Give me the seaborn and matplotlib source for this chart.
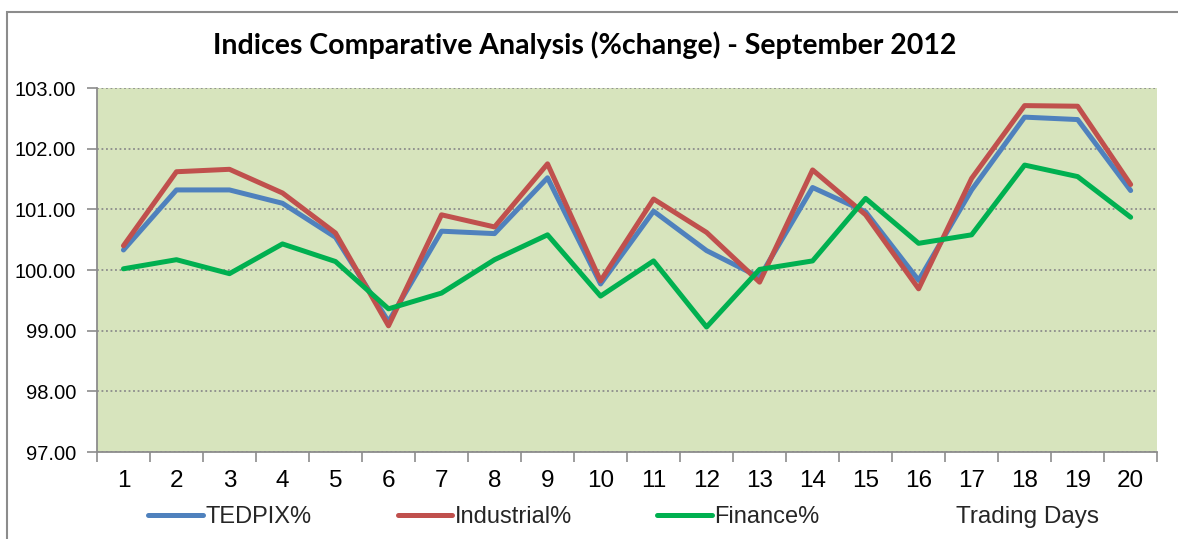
import pandas as pd
import matplotlib.pyplot as plt
import matplotlib.patches as patches
from matplotlib.lines import Line2D
from matplotlib.ticker import FixedLocator, FormatStrFormatter
import seaborn as sns

# values
days = list(range(1, 21))
tedpix = [100.33, 101.32, 101.32, 101.10, 100.54, 99.15, 100.64, 100.60, 101.52, 99.77,
          100.97, 100.32, 99.88, 101.36, 100.96, 99.83, 101.32, 102.52, 102.48, 101.31]
industrial = [100.40, 101.62, 101.66, 101.27, 100.61, 99.08, 100.91, 100.71, 101.75, 99.82,
              101.17, 100.62, 99.80, 101.65, 100.91, 99.69, 101.51, 102.71, 102.70, 101.41]
finance = [100.02, 100.17, 99.94, 100.43, 100.14, 99.36, 99.62, 100.17, 100.58, 99.57,
           100.15, 99.06, 100.01, 100.15, 101.18, 100.44, 100.58, 101.73, 101.54, 100.87]
series_names = ['TEDPIX%', 'Industrial%', 'Finance%']
colors = ['#4F81BD', '#C0504D', '#00B050']

df = pd.DataFrame({'day': days, 'TEDPIX%': tedpix, 'Industrial%': industrial, 'Finance%': finance})
long_df = df.melt(id_vars='day', var_name='index', value_name='value')

sns.set_style('white')
plt.rcParams['font.family'] = ['Liberation Sans', 'DejaVu Sans']

fig = plt.figure(figsize=(11.78, 5.39), dpi=100)
ax = fig.add_axes([0.0823, 0.1614, 0.9, 0.6753])
ax.set_facecolor('#D7E4BD')

sns.lineplot(data=long_df, x='day', y='value', hue='index', hue_order=series_names,
             palette=colors, linewidth=3.6, legend=False, ax=ax)

ax.set_xlim(0.5, 20.5)
ax.set_ylim(97, 103)
ax.set_yticks(range(97, 104))
ax.yaxis.set_major_formatter(FormatStrFormatter('%.2f'))
ax.set_xticks(days)
ax.set_xticklabels([str(d) for d in days])
ax.xaxis.set_minor_locator(FixedLocator([d + 0.5 for d in range(0, 21)]))
ax.tick_params(axis='x', which='major', length=0, labelsize=17.5, pad=13, labelcolor='black')
ax.tick_params(axis='x', which='minor', length=7, width=1.2, color='#8C8C8C', direction='out', bottom=True)
ax.tick_params(axis='y', length=7, width=1.2, color='#8C8C8C', direction='out', left=True,
               labelsize=14.5, pad=8, labelcolor='black')
ax.set_xlabel('')
ax.set_ylabel('')

ax.grid(axis='y', linestyle=(0, (1, 1.5)), color='#8C8C8C', linewidth=1.3)
ax.grid(axis='x', visible=False)
ax.set_axisbelow(True)
for side in ['top', 'right']:
    ax.spines[side].set_visible(False)
for side in ['left', 'bottom']:
    ax.spines[side].set_color('#8C8C8C')
    ax.spines[side].set_linewidth(1.3)

fig.text(0.496, 0.917, 'Indices Comparative Analysis (%change) - September 2012',
         ha='center', va='center', fontsize=20.5, fontweight='bold', color='black',
         family=['Lato', 'DejaVu Sans'])
fig.text(0.872, 0.040, 'Trading Days', ha='center', va='center', fontsize=17.5)

# legend entries spaced like the original
legend_x = [0.118, 0.330, 0.550]
for name, col, lx in zip(series_names, colors, legend_x):
    h = Line2D([], [], color=col, linewidth=3.6)
    fig.legend(handles=[h], labels=[name], loc='center left', bbox_to_anchor=(lx, 0.040),
               frameon=False, fontsize=17, handlelength=2.3, handletextpad=0.1, borderaxespad=0)

# outer chart border
fig.patches.append(patches.Rectangle((0.006, -0.2), 1.5, 1.1777, transform=fig.transFigure,
                                     fill=False, edgecolor='#8C8C8C', linewidth=1.5))

fig.savefig('out.png', dpi=100)
